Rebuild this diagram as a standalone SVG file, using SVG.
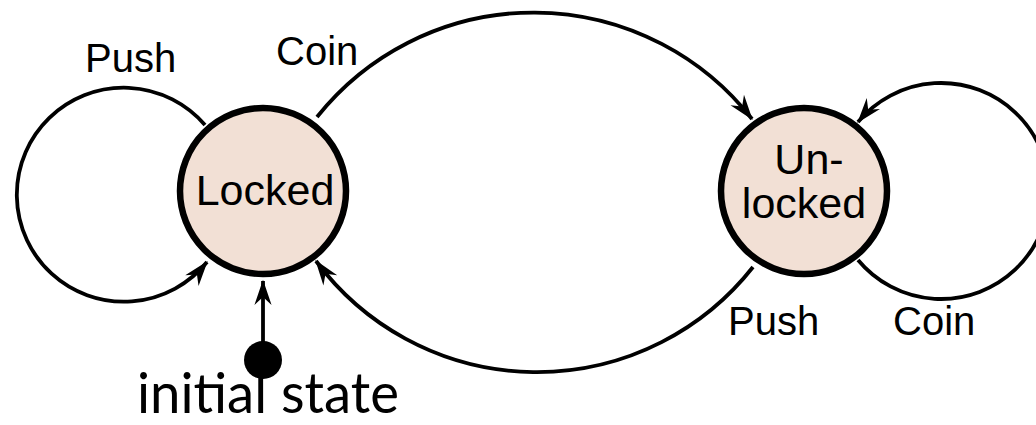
<svg xmlns="http://www.w3.org/2000/svg" width="1036" height="425" viewBox="0 0 1036 425">
<style>
.state{fill:#f2e0d5;stroke:#000;stroke-width:6.5}
.edge{fill:none;stroke:#000;stroke-width:3.8;marker-end:url(#arr)}
.lbl{font-family:"Liberation Sans",Arial,sans-serif;font-size:40px;fill:#000}
.nlbl{font-family:"Liberation Sans",Arial,sans-serif;font-size:43px;fill:#000;text-anchor:middle}
</style>
<defs>
<marker id="arr" markerUnits="userSpaceOnUse" markerWidth="32" markerHeight="32" viewBox="-24 -12 28 24" refX="0" refY="0" orient="auto">
<path d="M1,0 L-21,-7.5 L-14,0 L-21,7.5 Z" fill="#000"/>
</marker>
</defs>
<rect width="1036" height="425" fill="#fff"/>
<g id="connectors">
<path class="edge" d="M205,125 A107,107 0 1 0 207,262"/>
<path class="edge" d="M317,117 A277,277 0 0 1 752,119"/>
<path class="edge" d="M858,260 A108,108 0 1 0 858,122"/>
<path class="edge" d="M753,267 A275,275 0 0 1 316,261"/>
<path class="edge" d="M263,361 L263,281"/>
</g>
<g id="locked">
<circle class="state" cx="263" cy="191" r="83"/>
<text class="nlbl" x="265" y="205">Locked</text>
</g>
<g id="unlocked">
<circle class="state" cx="804" cy="191" r="83"/>
<text class="nlbl" x="809" y="174">Un-</text>
<text class="nlbl" x="804" y="218">locked</text>
</g>
<g id="initial">
<circle cx="263" cy="360" r="19" fill="#000"/>
<text x="137" y="413" font-family="Lato,'Open Sans',sans-serif" font-size="57" textLength="262" lengthAdjust="spacingAndGlyphs">initial state</text>
</g>
<g id="labels">
<text class="lbl" x="85" y="72">Push</text>
<text class="lbl" x="276" y="65">Coin</text>
<text class="lbl" x="728" y="335">Push</text>
<text class="lbl" x="893" y="335">Coin</text>
</g>
</svg>
